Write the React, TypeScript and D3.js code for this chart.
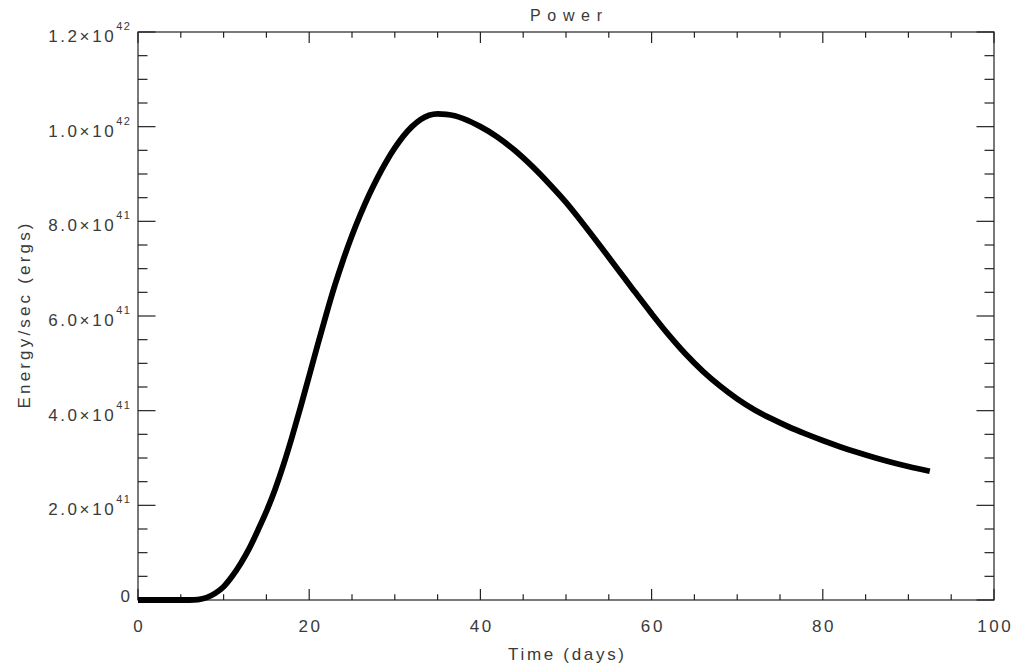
import React from "react";
import * as d3 from "d3";

const timeDays = [0, 5, 6, 7, 8, 9, 10, 11, 12, 13, 14, 15, 16, 17, 18, 19, 20, 21, 22, 23, 24, 25, 26, 27, 28, 29, 30, 31, 32, 33, 34, 35, 36, 37, 38, 40, 42, 44, 46, 48, 50, 52, 54, 56, 58, 60, 62, 64, 66, 68, 70, 72, 74, 76, 78, 80, 82, 84, 86, 88, 90, 92.5];
const power41 = [0, 0, 0, 0.01, 0.05, 0.14, 0.28, 0.5, 0.77, 1.09, 1.47, 1.87, 2.33, 2.86, 3.45, 4.08, 4.74, 5.4, 6.04, 6.65, 7.2, 7.7, 8.15, 8.56, 8.93, 9.26, 9.55, 9.8, 10.0, 10.15, 10.24, 10.27, 10.26, 10.23, 10.17, 10.0, 9.78, 9.5, 9.17, 8.8, 8.4, 7.95, 7.48, 7.0, 6.52, 6.05, 5.6, 5.19, 4.83, 4.52, 4.25, 4.02, 3.83, 3.66, 3.51, 3.37, 3.24, 3.12, 3.01, 2.91, 2.82, 2.72];

const xTicks = [0, 20, 40, 60, 80, 100];
const xTickLabels = ["0", "20", "40", "60", "80", "100"];
const xMinor = [5, 10, 15, 25, 30, 35, 45, 50, 55, 65, 70, 75, 85, 90, 95];
const yTicks = [0, 2e41, 4e41, 6e41, 8e41, 10e41, 12e41];
const yTickMantissa = ["0", "2.0", "4.0", "6.0", "8.0", "1.0", "1.2"];
const yTickExponent = ["", "41", "41", "41", "41", "42", "42"];
const yMinor = [0.5e41, 1e41, 1.5e41, 2.5e41, 3e41, 3.5e41, 4.5e41, 5e41, 5.5e41, 6.5e41, 7e41, 7.5e41, 8.5e41, 9e41, 9.5e41, 10.5e41, 11e41, 11.5e41];

const title = "Power";
const xTitle = "Time (days)";
const yTitle = "Energy/sec (ergs)";

export default function App() {
  const L = 138, R = 994, T = 32, B = 600;
  const x = d3.scaleLinear().domain([0, 100]).range([L, R]);
  const y = d3.scaleLinear().domain([0, 12e41]).range([B, T]);
  const pts: [number, number][] = timeDays.map((t, i) => [t, power41[i] * 1e41]);
  const line = d3.line<[number, number]>().x(d => x(d[0])).y(d => y(d[1])).curve(d3.curveMonotoneX);
  const axisColor = "#222";
  const textColor = "#3a3a3a";
  const font = "'Liberation Sans', Arial, sans-serif";
  const ls = 2.6;
  const xMajLen = 11, xMinLen = 5.7, yMajLen = 17.5, yMinLen = 9.5;

  return (
    <svg width={1015} height={667} style={{ position: "absolute", left: 0, top: 0, background: "#fff" }} fontFamily={font}>
      <rect x={0} y={0} width={1015} height={667} fill="#fff" />
      <rect x={L} y={T} width={R - L} height={B - T} fill="none" stroke={axisColor} strokeWidth={1.2} />
      {xTicks.map((t, i) => (
        <g key={"xt" + i}>
          <line x1={x(t)} x2={x(t)} y1={B} y2={B - xMajLen} stroke={axisColor} strokeWidth={1.2} />
          <line x1={x(t)} x2={x(t)} y1={T} y2={T + xMajLen} stroke={axisColor} strokeWidth={1.2} />
          <text x={x(t) + ls / 2} y={632} textAnchor="middle" fontSize={17} letterSpacing={ls} fill={textColor}>{xTickLabels[i]}</text>
        </g>
      ))}
      {xMinor.map((t, i) => (
        <g key={"xm" + i}>
          <line x1={x(t)} x2={x(t)} y1={B} y2={B - xMinLen} stroke={axisColor} strokeWidth={1.2} />
          <line x1={x(t)} x2={x(t)} y1={T} y2={T + xMinLen} stroke={axisColor} strokeWidth={1.2} />
        </g>
      ))}
      {yTicks.map((v, i) => (
        <g key={"yt" + i}>
          <line x1={L} x2={L + yMajLen} y1={y(v)} y2={y(v)} stroke={axisColor} strokeWidth={1.2} />
          <line x1={R} x2={R - yMajLen} y1={y(v)} y2={y(v)} stroke={axisColor} strokeWidth={1.2} />
          {yTickExponent[i] === "" ? (
            <text x={130 + ls} y={y(v) + 2} textAnchor="end" fontSize={17} letterSpacing={ls} fill={textColor}>{yTickMantissa[i]}</text>
          ) : (
            <text x={130 + 1.5} y={y(v) + 10} textAnchor="end" fontSize={17} letterSpacing={ls} fill={textColor}>
              {yTickMantissa[i] + "\u00d710"}
              <tspan dy={-12} fontSize={11} letterSpacing={1.5}>{yTickExponent[i]}</tspan>
            </text>
          )}
        </g>
      ))}
      {yMinor.map((v, i) => (
        <g key={"ym" + i}>
          <line x1={L} x2={L + yMinLen} y1={y(v)} y2={y(v)} stroke={axisColor} strokeWidth={1.2} />
          <line x1={R} x2={R - yMinLen} y1={y(v)} y2={y(v)} stroke={axisColor} strokeWidth={1.2} />
        </g>
      ))}
      <path d={line(pts) || ""} fill="none" stroke="#000" strokeWidth={5.8} strokeLinejoin="round" strokeLinecap="butt" />
      <text x={566} y={21} textAnchor="middle" fontSize={16} textLength={72} lengthAdjust="spacing" fill={textColor}>{title}</text>
      <text x={566} y={660} textAnchor="middle" fontSize={17} textLength={116} lengthAdjust="spacing" fill={textColor}>{xTitle}</text>
      <text transform={`translate(30,${(T + B) / 2}) rotate(-90)`} textAnchor="middle" fontSize={17} textLength={185} lengthAdjust="spacing" fill={textColor}>{yTitle}</text>
    </svg>
  );
}
